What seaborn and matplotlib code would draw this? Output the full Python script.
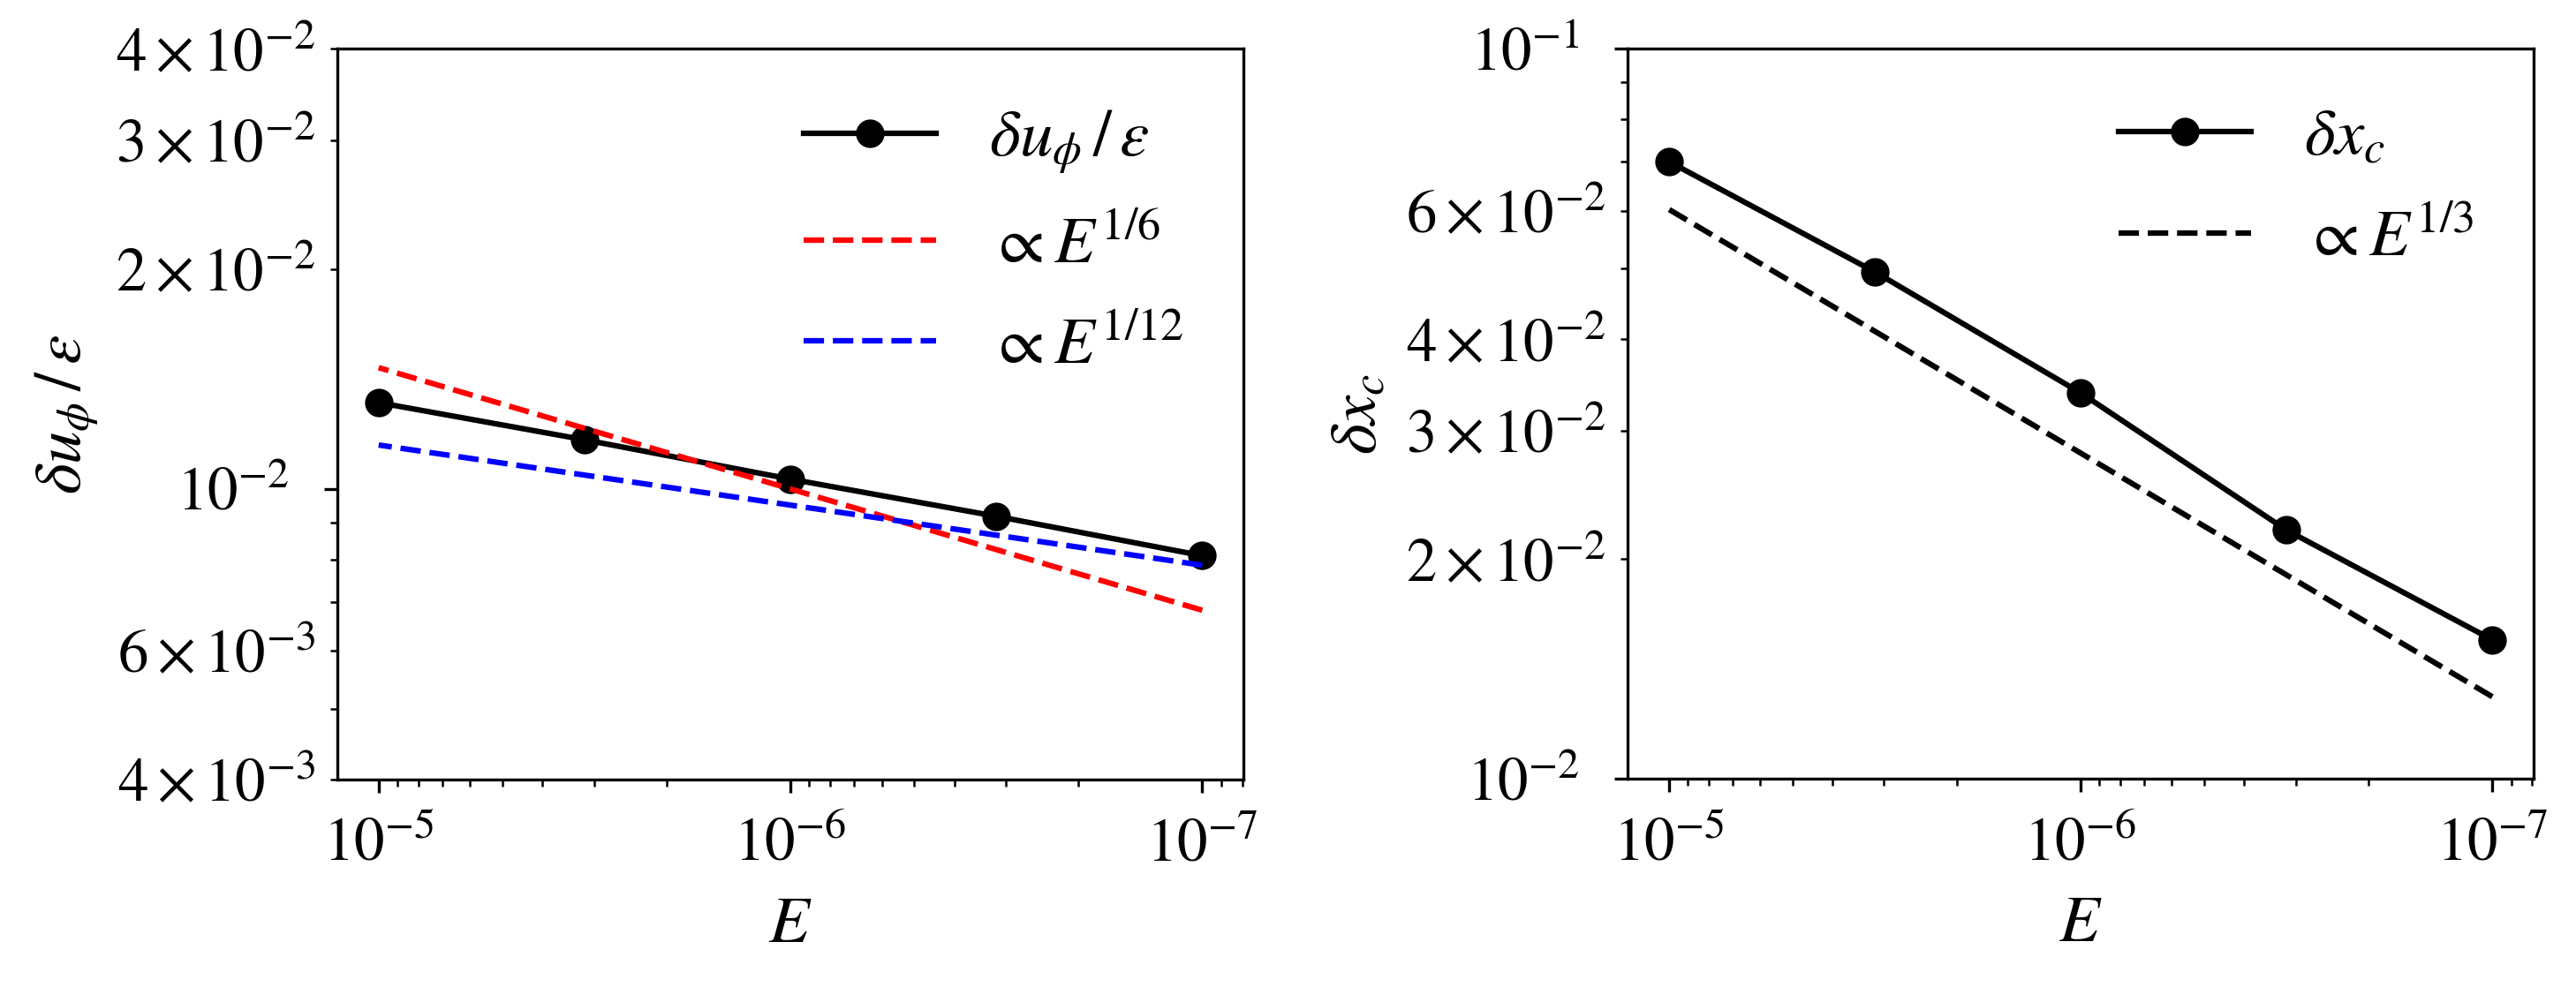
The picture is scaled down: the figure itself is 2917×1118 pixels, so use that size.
import numpy as np
import matplotlib
matplotlib.use("Agg")
import matplotlib.pyplot as plt
from matplotlib.ticker import LogFormatterSciNotation
import seaborn as sns

# Ekman numbers
E = [1e-5, 3.16e-6, 1e-6, 3.16e-7, 1e-7]

# left panel: velocity jump
du_eps = [0.01312, 0.01167, 0.01031, 0.00917, 0.00810]
E_ref = [1e-5, 1e-7]
ref_16 = [0.01465, 0.00682]
ref_112 = [0.01148, 0.00786]

# right panel: shift of the critical point
dxc = [0.0701, 0.0495, 0.0338, 0.02192, 0.01551]
ref_13 = [0.0603, 0.01296]

plt.rcParams['font.family'] = ['STIXGeneral', 'Liberation Serif', 'DejaVu Serif']
plt.rcParams['mathtext.fontset'] = 'stix'

fig = plt.figure(figsize=(2917 / 300, 1118 / 300), dpi=300)
ax1 = fig.add_axes([0.131, 0.2102, 0.3517, 0.7402])
ax2 = fig.add_axes([0.6318, 0.2108, 0.3517, 0.7397])

lw = 1.5
ms = 7

# left
sns.lineplot(x=E, y=du_eps, ax=ax1, color='k', marker='o', markersize=ms,
             markeredgecolor='k', lw=lw, label=r'$\delta u_\phi\,/\,\varepsilon$')
sns.lineplot(x=E_ref, y=ref_16, ax=ax1, color='r', linestyle='--', lw=lw,
             label=r'$\propto E^{1/6}$')
sns.lineplot(x=E_ref, y=ref_112, ax=ax1, color='b', linestyle='--', lw=lw,
             label=r'$\propto E^{1/12}$')
ax1.set_ylim(4e-3, 4e-2)

# right
sns.lineplot(x=E, y=dxc, ax=ax2, color='k', marker='o', markersize=ms,
             markeredgecolor='k', lw=lw, label=r'$\delta x_c$')
sns.lineplot(x=E_ref, y=ref_13, ax=ax2, color='k', linestyle='--', lw=lw,
             label=r'$\propto E^{1/3}$')
ax2.set_ylim(1e-2, 1e-1)

for ax, ylab in [(ax1, r'$\delta u_\phi\,/\,\varepsilon$'), (ax2, r'$\delta x_c$')]:
    ax.set_xscale('log')
    ax.set_yscale('log')
    ax.margins(x=0.05)
    ax.invert_xaxis()
    ax.yaxis.set_minor_formatter(LogFormatterSciNotation(labelOnlyBase=False,
                                                          minor_thresholds=(2, 0.4)))
    ax.tick_params(which='both', labelsize=16.5)
    ax.tick_params(axis='x', which='major', pad=7)
    ax.tick_params(axis='y', which='major', pad=9.5)
    ax.tick_params(axis='y', which='minor', pad=4)
    ax.set_xlabel(r'$E$', fontsize=18, labelpad=6)
    ax.set_ylabel(ylab, fontsize=18)
    ax.legend(loc='upper right', frameon=False, fontsize=18, labelspacing=0.6)

fig.savefig('out.png', dpi=300)
